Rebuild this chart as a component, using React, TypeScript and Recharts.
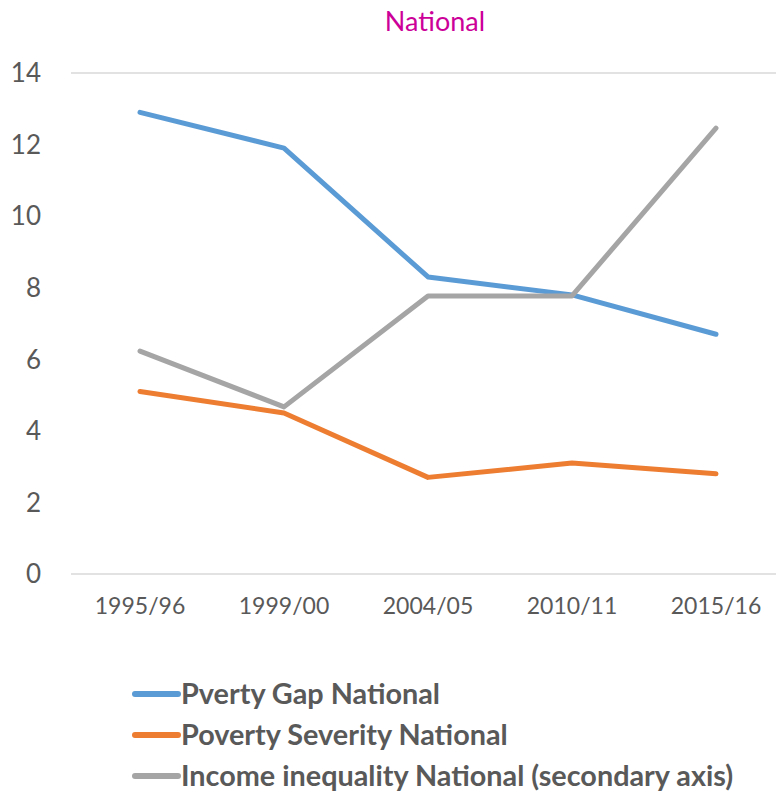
import { type FC } from "react"
import { CartesianGrid, Line, LineChart, XAxis, YAxis } from "recharts"

const years = ["1995/96", "1999/00", "2004/05", "2010/11", "2015/16"]
const povertyGap = [12.9, 11.9, 8.3, 7.8, 6.7]
const povertySeverity = [5.1, 4.5, 2.7, 3.1, 2.8]
// secondary axis is not drawn, values read against the primary scale
const incomeInequality = [6.23, 4.67, 7.77, 7.77, 12.46]
const yTicks = [0, 2, 4, 6, 8, 10, 12, 14]

const series = [
  { key: "gap", name: "Pverty Gap National", color: "#5B9BD5", axis: "left" },
  { key: "severity", name: "Poverty Severity National", color: "#ED7D31", axis: "left" },
  { key: "inequality", name: "Income inequality National (secondary axis)", color: "#A5A5A5", axis: "right" },
]

const data = years.map((year, i) => ({
  year,
  gap: povertyGap[i],
  severity: povertySeverity[i],
  inequality: incomeInequality[i],
}))

const font = "Lato, 'Open Sans', sans-serif"

const LegendBox: FC = () => (
  <div
    style={{
      position: "absolute",
      left: 132,
      top: 673,
      fontFamily: font,
      whiteSpace: "nowrap",
    }}
  >
    {series.map((s) => (
      <div
        key={s.key}
        style={{ display: "flex", alignItems: "center", height: 41 }}
      >
        <div
          style={{
            width: 49,
            height: 6,
            borderRadius: 3,
            background: s.color,
          }}
        />
        <span
          style={{
            fontSize: 28.8,
            lineHeight: "41px",
            fontWeight: 700,
            color: "#595959",
          }}
        >
          {s.name}
        </span>
      </div>
    ))}
  </div>
)

const App: FC = () => {
  return (
    <div
      style={{
        position: "relative",
        width: 784,
        height: 794,
        margin: "-8px 0 0 -8px",
        overflow: "hidden",
      }}
    >
      <div
        style={{
          position: "absolute",
          top: 4,
          left: 0,
          width: 870,
          textAlign: "center",
          fontFamily: font,
          fontSize: 27,
          color: "#CC0099",
        }}
      >
        National
      </div>
      <LineChart
        width={784}
        height={794}
        data={data}
        margin={{ top: 73, right: 0, bottom: 160, left: 0 }}
      >
        <CartesianGrid stroke="#D9D9D9" strokeWidth={1.5} vertical={false} />
        <XAxis
          dataKey="year"
          padding={{ left: 69, right: 68 }}
          axisLine={false}
          tickLine={false}
          tickMargin={18}
          height={60}
          tick={{ fontSize: 23, fill: "#595959", fontFamily: font }}
        />
        <YAxis
          yAxisId="left"
          domain={[0, 14]}
          ticks={yTicks}
          width={71}
          axisLine={false}
          tickLine={false}
          tickMargin={24}
          tick={{ fontSize: 26, fill: "#595959", fontFamily: font }}
        />
        <YAxis yAxisId="right" orientation="right" domain={[0, 14]} hide />
        {series.map((s) => (
          <Line
            key={s.key}
            yAxisId={s.axis}
            dataKey={s.key}
            name={s.name}
            stroke={s.color}
            strokeWidth={5}
            strokeLinecap="round"
            strokeLinejoin="round"
            dot={false}
            isAnimationActive={false}
          />
        ))}
      </LineChart>
      <LegendBox />
    </div>
  )
}

export default App
